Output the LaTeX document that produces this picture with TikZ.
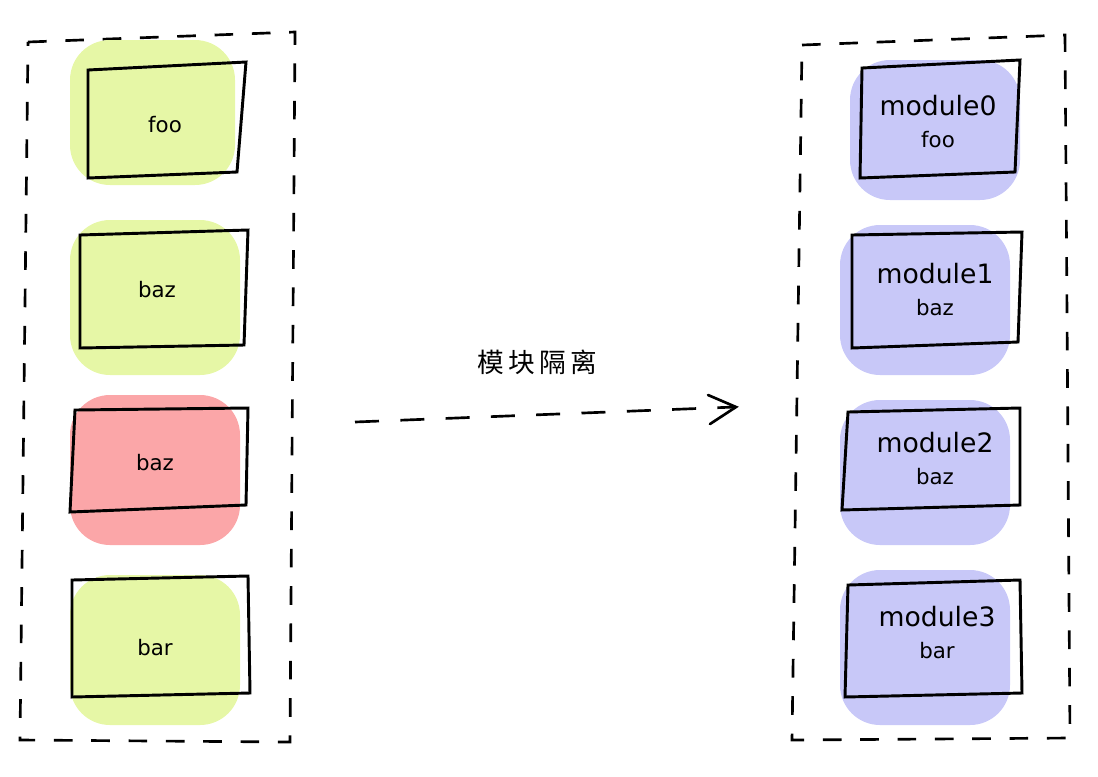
\documentclass[tikz,border=0pt]{standalone}
\usepackage{fontspec}
\setmainfont{DejaVu Sans}
\newfontfamily\cjk{Noto Sans CJK SC}
\definecolor{lg}{HTML}{E6F7A6}
\definecolor{lr}{HTML}{FBA6A8}
\definecolor{lb}{HTML}{C8C8F8}
\begin{document}
\begin{tikzpicture}[x=0.75pt,y=-0.75pt,
  cont/.style={draw,line width=2pt,dash pattern=on 14pt off 14pt},
  boxx/.style={draw,line width=2.2pt},
  lbl/.style={font=\fontsize{16}{18}\selectfont},
  mlbl/.style={font=\fontsize{20}{22}\selectfont}]
\useasboundingbox (0,0) rectangle (1098,776);
\draw[cont] (28,42) -- (295,32) -- (290,742) -- (20,740) -- cycle;
\draw[cont] (802,45) -- (1065,35) -- (1070,738) -- (792,740) -- cycle;
\fill[lg,rounded corners=30pt] (70,40) rectangle (235,185);
\fill[lg,rounded corners=30pt] (70,220) rectangle (240,375);
\fill[lr,rounded corners=30pt] (70,395) rectangle (240,545);
\fill[lg,rounded corners=30pt] (70,575) rectangle (240,725);
\fill[lb,rounded corners=30pt] (850,60) rectangle (1020,200);
\fill[lb,rounded corners=30pt] (840,225) rectangle (1010,375);
\fill[lb,rounded corners=30pt] (840,400) rectangle (1010,545);
\fill[lb,rounded corners=30pt] (840,570) rectangle (1010,725);
\draw[boxx] (88,70) -- (246,62) -- (237,172) -- (88,178) -- cycle;
\node[lbl] (l1) at (165,125) {foo};
\draw[boxx] (80,235) -- (248,230) -- (244,345) -- (80,348) -- cycle;
\node[lbl] (l2) at (157,290) {baz};
\draw[boxx] (75,410) -- (248,408) -- (246,505) -- (70,512) -- cycle;
\node[lbl] (l3) at (155,463) {baz};
\draw[boxx] (72,580) -- (248,576) -- (250,693) -- (72,697) -- cycle;
\node[lbl] (l4) at (155,648) {bar};
\draw[boxx] (862,68) -- (1020,60) -- (1015,172) -- (860,178) -- cycle;
\node[mlbl,align=center] (r1) at (938,122) {module0\\[2pt]\fontsize{16}{18}\selectfont foo};
\draw[boxx] (852,235) -- (1022,232) -- (1018,342) -- (852,348) -- cycle;
\node[mlbl,align=center] (r2) at (935,290) {module1\\[2pt]\fontsize{16}{18}\selectfont baz};
\draw[boxx] (848,412) -- (1020,408) -- (1020,505) -- (842,510) -- cycle;
\node[mlbl,align=center] (r3) at (935,459) {module2\\[2pt]\fontsize{16}{18}\selectfont baz};
\draw[boxx] (848,585) -- (1020,580) -- (1022,693) -- (845,697) -- cycle;
\node[mlbl,align=center] (r4) at (937,633) {module3\\[2pt]\fontsize{16}{18}\selectfont bar};
\coordinate (a) at (355,422);
\coordinate (b) at (735,407);
\draw[line width=2pt,dash pattern=on 18pt off 16pt] (a) -- (b);
\draw[line width=2pt,line cap=round] (708,395) -- (736,407) -- (710,424);
\node[font=\cjk\fontsize{20}{22}\selectfont] (t) at (537,362) {模\,块\,隔\,离};
\end{tikzpicture}
\end{document}
